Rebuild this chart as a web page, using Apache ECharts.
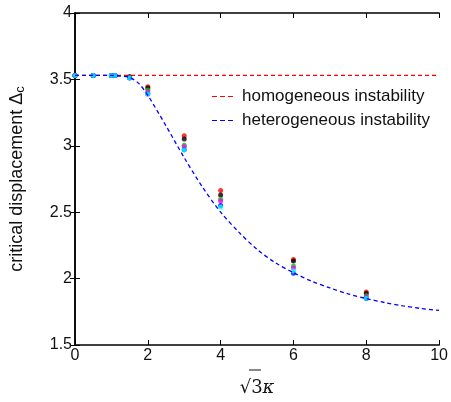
<!DOCTYPE html>
<html>
<head>
<meta charset="utf-8">
<script src="https://cdn.jsdelivr.net/npm/echarts@6/dist/echarts.min.js"></script>
<style>
  html, body { margin: 0; padding: 0; background: #fff; }
  #main { width: 451px; height: 402px; }
</style>
</head>
<body>
<div id="main"></div>
<script>
// 数据: sqrt(3)*kappa 与临界位移
var kappa = [0, 0.5, 1, 1.1, 1.5, 2, 3, 4, 6, 8];
var redPts = [3.53, 3.53, 3.53, 3.53, 3.52, 3.445, 3.075, 2.664, 2.144, 1.900];
var blackPts = [3.53, 3.53, 3.53, 3.53, 3.52, 3.435, 3.052, 2.629, 2.132, 1.888];
var greenPts = [3.53, 3.53, 3.53, 3.53, 3.515, 3.420, 3.005, 2.597, 2.095, 1.871];
var magentaPts = [3.53, 3.53, 3.53, 3.53, 3.512, 3.405, 2.993, 2.584, 2.080, 1.862];
var bluePts = [3.53, 3.53, 3.53, 3.53, 3.51, 3.390, 2.970, 2.550, 2.040, 1.850];
var cyanPts = [3.53, 3.53, 3.53, 3.53, 3.51, 3.390, 2.968, 2.540, 2.057, 1.852];

// 均匀失稳 (水平线)
var homoX = [0, 10];
var homoY = [3.53, 3.53];

// 非均匀失稳曲线
var heteroX = [0, 0.5, 1, 1.25, 1.5, 1.75, 2, 2.5, 3, 3.5, 4, 4.5, 5, 5.5, 6, 6.5, 7, 7.5, 8, 8.5, 9, 9.5, 10];
var heteroY = [3.53, 3.53, 3.53, 3.525, 3.515, 3.47, 3.38, 3.15, 2.91, 2.69, 2.50, 2.35, 2.22, 2.12, 2.045, 1.98, 1.93, 1.885, 1.85, 1.82, 1.795, 1.775, 1.76];

var xTicks = { min: 0, max: 10, interval: 2 };
var yTicks = { min: 1.5, max: 4, interval: 0.5 };

function pairs(xs, ys) {
	return xs.map(function (x, i) { return [x, ys[i]]; });
}

var font = 'Liberation Sans, Helvetica, Arial, sans-serif';
var homoColor = '#ff0000';
var heteroColor = '#0000ff';
// 图例里的虚线图标
var dashIcon = 'path://M0 0h5v1H0zM8 0h5v1H8zM16 0h5v1h-5z';

function scatter(name, color, ys) {
	return {
		name: name,
		type: 'scatter',
		symbol: 'circle',
		symbolSize: 5,
		itemStyle: { color: color },
		data: pairs(kappa, ys),
		z: 3
	};
}

function legendRow(name, color, top) {
	return {
		data: [name],
		icon: dashIcon,
		left: 207,
		top: top,
		itemWidth: 21,
		itemHeight: 1.6,
		itemStyle: { color: color, borderWidth: 0 },
		lineStyle: { color: color },
		textStyle: { fontSize: 17, color: '#111', fontFamily: font, padding: [0, 0, 0, 4] }
	};
}

var myChart = echarts.init(document.getElementById('main'));

var option = {
	backgroundColor: '#fff',
	animation: false,
	textStyle: { fontFamily: font },
	grid: { left: 74, right: 10, top: 13, bottom: 54 },
	legend: [
		legendRow('homogeneous instability', homoColor, 83),
		legendRow('heterogeneous instability', heteroColor, 107)
	],
	xAxis: [{
		type: 'value',
		min: xTicks.min,
		max: xTicks.max,
		interval: xTicks.interval,
		position: 'bottom',
		name: '√3{k|κ}',
		nameLocation: 'middle',
		nameGap: 34,
		nameTextStyle: {
			fontSize: 18, color: '#111', fontFamily: 'DejaVu Serif, serif',
			rich: { k: { fontSize: 18, fontStyle: 'italic', color: '#111', fontFamily: 'DejaVu Serif, serif' } }
		},
		axisLine: { lineStyle: { color: '#000', width: 1.5 } },
		axisTick: { inside: true, length: 5, lineStyle: { color: '#000' } },
		axisLabel: { fontSize: 16, color: '#111', margin: 3 },
		splitLine: { show: false }
	}, {
		type: 'value',
		min: xTicks.min,
		max: xTicks.max,
		interval: xTicks.interval,
		position: 'top',
		axisLine: { lineStyle: { color: '#000', width: 1.5 } },
		axisTick: { inside: true, length: 5, lineStyle: { color: '#000' } },
		axisLabel: { show: false },
		splitLine: { show: false }
	}],
	yAxis: [{
		type: 'value',
		min: yTicks.min,
		max: yTicks.max,
		interval: yTicks.interval,
		position: 'left',
		name: 'critical displacement Δ{sub|c}',
		nameLocation: 'middle',
		nameGap: 48,
		nameTextStyle: {
			fontSize: 18,
			color: '#111',
			rich: { sub: { fontSize: 13, verticalAlign: 'bottom', padding: [7, 0, 0, 0], color: '#111' } }
		},
		axisLine: { lineStyle: { color: '#000', width: 1.5 } },
		axisTick: { inside: true, length: 5, lineStyle: { color: '#000' } },
		axisLabel: { fontSize: 16, color: '#111', margin: 3 },
		splitLine: { show: false }
	}, {
		type: 'value',
		min: yTicks.min,
		max: yTicks.max,
		interval: yTicks.interval,
		position: 'right',
		axisLine: { lineStyle: { color: '#000', width: 1.5 } },
		axisTick: { inside: true, length: 5, lineStyle: { color: '#000' } },
		axisLabel: { show: false },
		splitLine: { show: false }
	}],
	// 根号上方的横线
	graphic: [{
		type: 'line',
		shape: { x1: 249, y1: 370, x2: 261, y2: 370 },
		style: { stroke: '#111', lineWidth: 1 }
	}],
	series: [
		{
			name: 'homogeneous instability',
			type: 'line',
			symbol: 'none',
			data: pairs(homoX, homoY),
			lineStyle: { color: homoColor, width: 1.2, type: [4, 3] },
			itemStyle: { color: homoColor },
			z: 2
		},
		{
			name: 'heterogeneous instability',
			type: 'line',
			symbol: 'none',
			smooth: 0.3,
			data: pairs(heteroX, heteroY),
			lineStyle: { color: heteroColor, width: 1.3, type: [4, 3] },
			itemStyle: { color: heteroColor },
			z: 4
		},
		scatter('red', '#ff0000', redPts),
		scatter('black', '#000000', blackPts),
		scatter('green', '#00c800', greenPts),
		scatter('magenta', '#ff00ff', magentaPts),
		scatter('blue', '#0000ff', bluePts),
		scatter('cyan', '#00ffff', cyanPts)
	]
};

myChart.setOption(option);
</script>
</body>
</html>
